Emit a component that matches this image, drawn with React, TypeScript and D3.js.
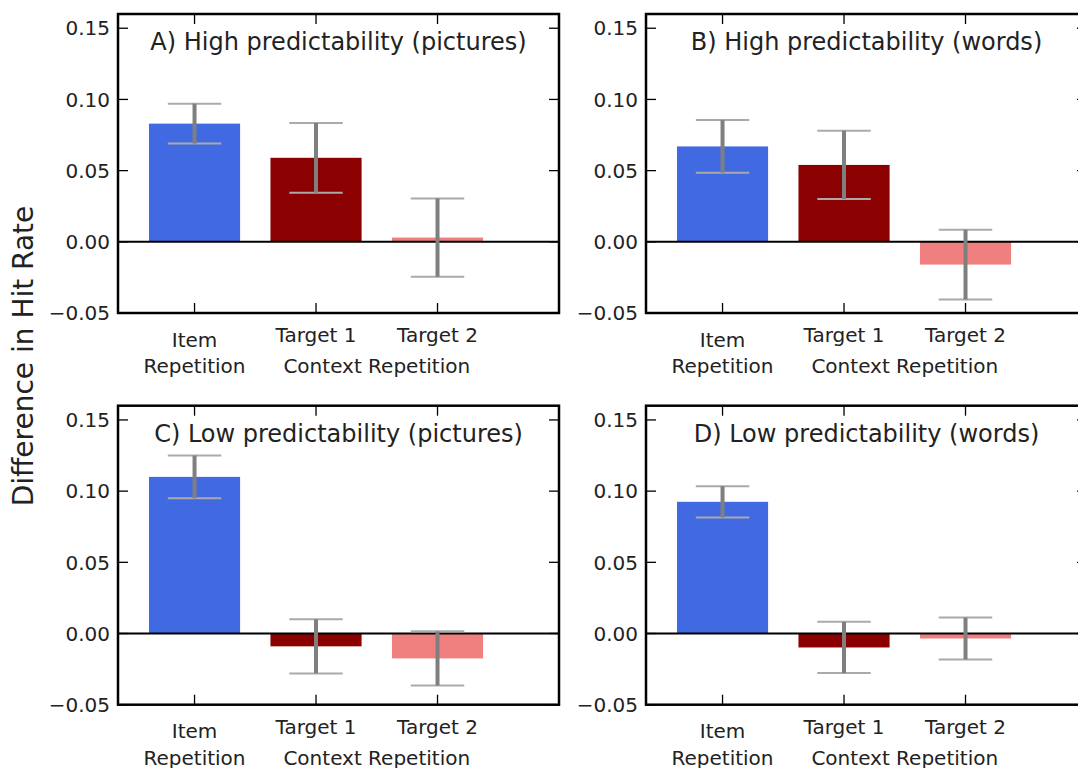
import React from "react";
import * as d3 from "d3";

// data
const categories = ["Item", "Target 1", "Target 2"];
const barColors = ["#4169E1", "#8B0000", "#F08080"];
const panelTitles = [
  "A) High predictability (pictures)",
  "B) High predictability (words)",
  "C) Low predictability (pictures)",
  "D) Low predictability (words)",
];
const meansA = [0.083, 0.059, 0.003];
const meansB = [0.067, 0.054, -0.016];
const meansC = [0.11, -0.009, -0.0175];
const meansD = [0.0925, -0.0098, -0.0035];
const errA = [0.014, 0.0245, 0.0275];
const errB = [0.0185, 0.024, 0.0245];
const errC = [0.015, 0.019, 0.019];
const errD = [0.011, 0.018, 0.0147];
const yTicks = [-0.05, 0.0, 0.05, 0.1, 0.15];

const panels = [
  { title: panelTitles[0], means: meansA, errs: errA },
  { title: panelTitles[1], means: meansB, errs: errB },
  { title: panelTitles[2], means: meansC, errs: errC },
  { title: panelTitles[3], means: meansD, errs: errD },
];

const W = 1078;
const H = 768;
const panelW = 441;
const panelH = 299;
const colX = [118, 646];
const rowY = [14, 405.7];
const font = "DejaVu Sans, sans-serif";
const barWidth = 0.75;
const capHalf = 0.22;
const tickLen = 10;

function Panel({ title, means, errs, left, top }: any) {
  const x = d3.scaleLinear().domain([-0.63, 3.0]).range([0, panelW]);
  const y = d3.scaleLinear().domain([-0.05, 0.16]).range([panelH, 0]);
  const idx = d3.range(categories.length);
  return (
    <g transform={`translate(${left},${top})`}>
      {idx.map((i) => {
        const v = means[i];
        return (
          <rect
            key={"b" + i}
            x={x(i - barWidth / 2)}
            width={x(barWidth) - x(0)}
            y={y(Math.max(0, v))}
            height={Math.abs(y(v) - y(0))}
            fill={barColors[i]}
          />
        );
      })}
      <line x1={0} x2={panelW} y1={y(0)} y2={y(0)} stroke="#000" strokeWidth={2} />
      {idx.map((i) => {
        const v = means[i];
        const e = errs[i];
        return (
          <g key={"e" + i}>
            <line x1={x(i - capHalf)} x2={x(i + capHalf)} y1={y(v + e)} y2={y(v + e)} stroke="#aaaaaa" strokeWidth={2} />
            <line x1={x(i - capHalf)} x2={x(i + capHalf)} y1={y(v - e)} y2={y(v - e)} stroke="#aaaaaa" strokeWidth={2} />
            <line x1={x(i)} x2={x(i)} y1={y(v + e)} y2={y(v - e)} stroke="#7f7f7f" strokeWidth={4} />
          </g>
        );
      })}
      {yTicks.map((t) => (
        <g key={"y" + t}>
          <line x1={0} x2={tickLen} y1={y(t)} y2={y(t)} stroke="#000" strokeWidth={1.3} />
          <line x1={panelW - tickLen} x2={panelW} y1={y(t)} y2={y(t)} stroke="#000" strokeWidth={1.3} />
          <text x={-8} y={y(t)} dy="0.36em" textAnchor="end" fontFamily={font} fontSize={20} fill="#222">
            {t < 0 ? "\u2212" + Math.abs(t).toFixed(2) : t.toFixed(2)}
          </text>
        </g>
      ))}
      {idx.map((i) => (
        <g key={"x" + i}>
          <line x1={x(i)} x2={x(i)} y1={0} y2={tickLen} stroke="#000" strokeWidth={1.3} />
          <line x1={x(i)} x2={x(i)} y1={panelH - tickLen} y2={panelH} stroke="#000" strokeWidth={1.3} />
          <text x={x(i)} y={i === 0 ? panelH + 33.7 : panelH + 29.3} textAnchor="middle" fontFamily={font} fontSize={20} fill="#222">
            {categories[i]}
          </text>
        </g>
      ))}
      <text x={x(0)} y={panelH + 60} textAnchor="middle" fontFamily={font} fontSize={20} fill="#222">
        Repetition
      </text>
      <text x={x(1.5)} y={panelH + 60} textAnchor="middle" fontFamily={font} fontSize={20} fill="#222">
        Context Repetition
      </text>
      <text x={panelW / 2} y={36} textAnchor="middle" fontFamily={font} fontSize={24} fill="#222">
        {title}
      </text>
      <rect x={0} y={0} width={panelW} height={panelH} fill="none" stroke="#000" strokeWidth={2.5} />
    </g>
  );
}

export default function App() {
  return (
    <svg
      width={W}
      height={H}
      style={{ position: "absolute", left: 0, top: 0, background: "#fff" }}
    >
      {panels.map((p, k) => (
        <Panel
          key={k}
          title={p.title}
          means={p.means}
          errs={p.errs}
          left={colX[k % 2]}
          top={rowY[Math.floor(k / 2)]}
        />
      ))}
      <text
        transform="translate(33,356) rotate(-90)"
        textAnchor="middle"
        fontFamily={font}
        fontSize={28}
        fill="#222"
      >
        Difference in Hit Rate
      </text>
    </svg>
  );
}
